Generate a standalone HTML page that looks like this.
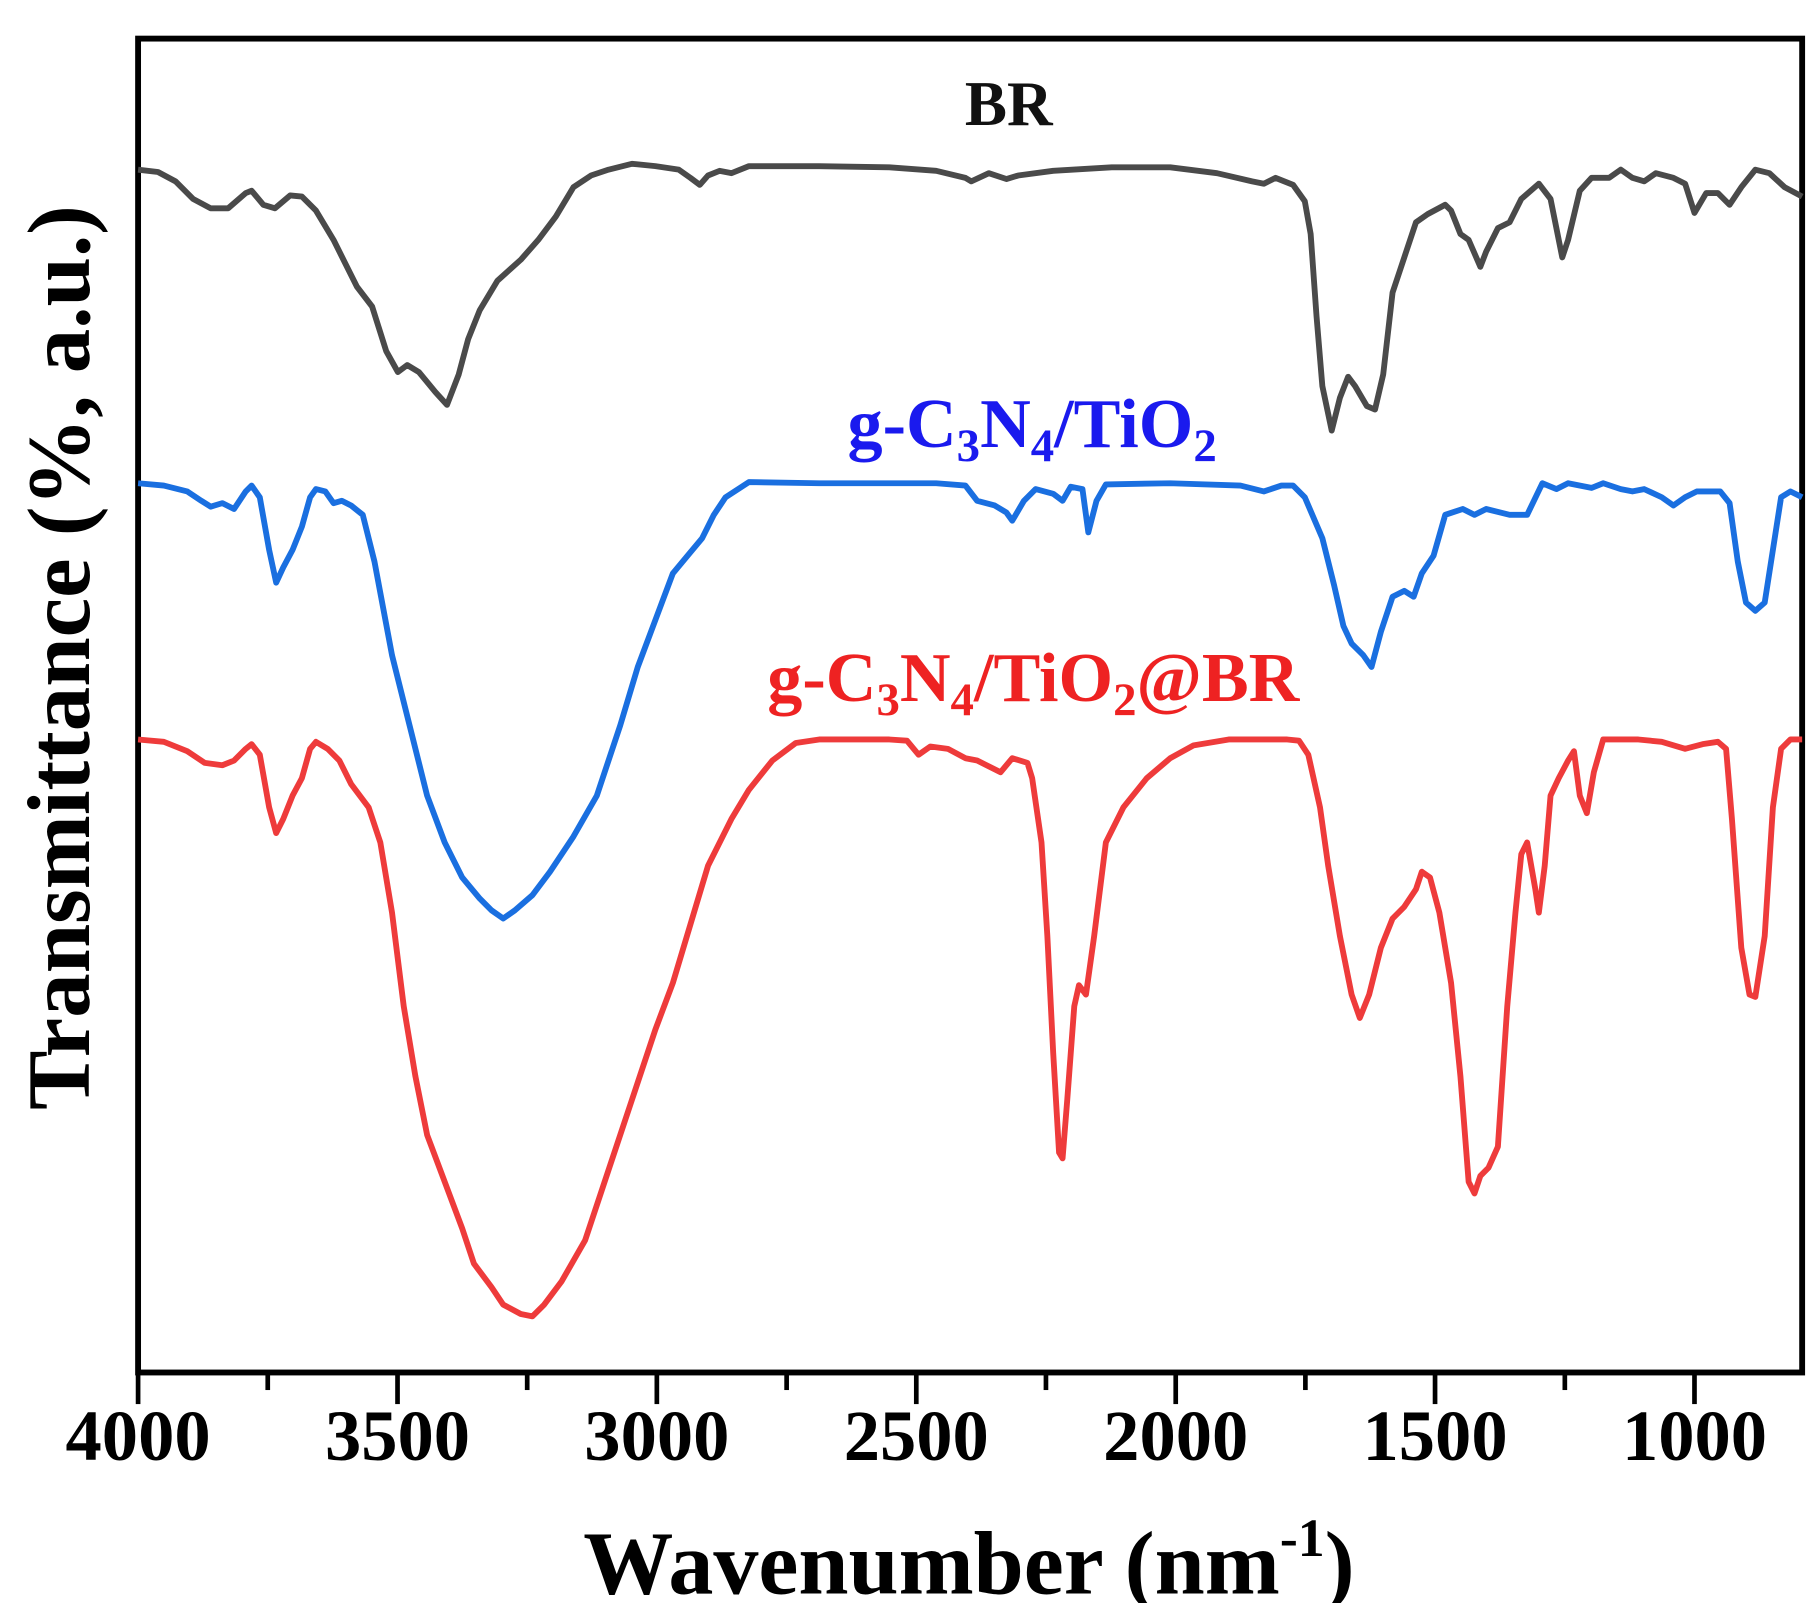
<!DOCTYPE html>
<html><head><meta charset="utf-8"><style>html,body{margin:0;padding:0;background:#fff}svg{display:block}</style></head>
<body>
<svg width="1808" height="1603" viewBox="0 0 1545 1370" preserveAspectRatio="none" xmlns="http://www.w3.org/2000/svg" font-family="'Liberation Serif',serif" font-weight="bold">
<rect x="118" y="33" width="1422" height="1140" fill="none" stroke="#000" stroke-width="5"/>
<g stroke="#000" stroke-width="4">
<line x1="118" y1="1173" x2="118" y2="1200"/><line x1="339.7" y1="1173" x2="339.7" y2="1200"/><line x1="561.3" y1="1173" x2="561.3" y2="1200"/><line x1="783" y1="1173" x2="783" y2="1200"/><line x1="1004.7" y1="1173" x2="1004.7" y2="1200"/><line x1="1226.3" y1="1173" x2="1226.3" y2="1200"/><line x1="1448" y1="1173" x2="1448" y2="1200"/>
<line x1="228.8" y1="1173" x2="228.8" y2="1188"/><line x1="450.5" y1="1173" x2="450.5" y2="1188"/><line x1="672.2" y1="1173" x2="672.2" y2="1188"/><line x1="893.8" y1="1173" x2="893.8" y2="1188"/><line x1="1115.5" y1="1173" x2="1115.5" y2="1188"/><line x1="1337.2" y1="1173" x2="1337.2" y2="1188"/>
</g>
<g font-size="62" text-anchor="middle" fill="#000">
<text x="118" y="1248">4000</text><text x="339.7" y="1248">3500</text><text x="561.3" y="1248">3000</text><text x="783" y="1248">2500</text><text x="1004.7" y="1248">2000</text><text x="1226.3" y="1248">1500</text><text x="1448" y="1248">1000</text>
</g>
<text x="828" y="1362" font-size="77" text-anchor="middle">Wavenumber (nm<tspan font-size="46" dy="-32">-1</tspan><tspan dy="32">)</tspan></text>
<text transform="translate(76,562) rotate(-90)" font-size="76" text-anchor="middle">Transmittance (%, a.u.)</text>
<text x="862" y="107" font-size="54" text-anchor="middle" fill="#111">BR</text>
<text x="882" y="382" font-size="60" text-anchor="middle" fill="#1a1aee">g-C<tspan font-size="40" dy="12">3</tspan><tspan dy="-12">N</tspan><tspan font-size="40" dy="12">4</tspan><tspan dy="-12">/TiO</tspan><tspan font-size="40" dy="12">2</tspan></text>
<text x="883" y="599" font-size="60" text-anchor="middle" fill="#ee2222">g-C<tspan font-size="40" dy="12">3</tspan><tspan dy="-12">N</tspan><tspan font-size="40" dy="12">4</tspan><tspan dy="-12">/TiO</tspan><tspan font-size="40" dy="12">2</tspan><tspan dy="-12">@BR</tspan></text>
<g fill="none" stroke-width="5" stroke-linejoin="round">
<polyline stroke="#4a4a4a" points="118,145 135,147 150,155 165,170 180,178 195,178 210,165 215,163 225,175 235,178 248,167 258,168 270,180 285,205 295,225 305,245 318,262 330,300 340,318 348,312 358,318 372,335 382,346 392,320 400,290 410,265 425,240 445,222 460,205 475,185 490,160 505,150 520,145 540,140 560,142 580,145 590,152 598,158 605,150 615,146 625,148 640,142 700,142 760,143 800,146 825,152 830,155 845,148 860,153 870,150 900,146 950,143 1000,143 1040,148 1070,155 1080,157 1090,152 1105,158 1115,172 1120,200 1125,270 1130,330 1138,368 1145,340 1152,322 1158,330 1168,347 1175,350 1182,320 1190,250 1200,220 1210,190 1220,183 1235,175 1240,180 1248,200 1255,205 1265,228 1270,215 1280,195 1290,190 1300,170 1315,157 1325,170 1335,220 1340,205 1350,163 1360,152 1375,152 1385,145 1395,152 1405,155 1415,148 1430,152 1440,157 1448,182 1458,165 1468,165 1478,175 1488,160 1500,145 1512,148 1525,160 1540,168"/>
<polyline stroke="#1a6fe0" points="118,413 140,415 160,420 172,428 180,433 190,430 200,435 210,420 215,415 222,425 230,470 236,498 242,485 250,470 258,450 265,425 270,418 278,420 285,430 292,428 300,432 310,440 320,480 335,560 350,620 365,680 380,720 395,750 410,768 420,778 430,785 440,778 455,765 470,745 490,715 510,680 530,620 545,570 560,530 575,490 590,472 600,460 610,440 620,425 640,412 700,413 760,413 800,413 825,415 835,428 850,432 860,438 865,445 875,428 885,418 900,422 908,428 915,416 925,418 930,455 937,428 945,414 1000,413 1060,415 1080,420 1095,415 1105,415 1115,425 1130,460 1140,500 1148,535 1155,550 1165,560 1172,570 1180,540 1190,510 1200,505 1208,510 1215,490 1225,475 1235,440 1250,435 1260,440 1270,435 1290,440 1305,440 1318,413 1330,418 1340,413 1360,417 1370,413 1385,418 1395,420 1405,418 1420,425 1430,432 1440,425 1450,420 1470,420 1478,430 1485,480 1492,515 1500,522 1508,515 1515,470 1522,425 1530,420 1540,425"/>
<polyline stroke="#ee3b3b" points="118,632 140,634 160,642 175,652 190,654 200,650 210,640 215,636 222,645 230,690 236,712 242,700 250,680 258,665 265,640 270,634 280,640 290,650 300,670 315,690 325,720 335,780 345,860 355,920 365,970 380,1010 395,1050 405,1080 420,1100 430,1115 445,1123 455,1125 465,1115 480,1095 500,1060 520,1000 540,940 560,880 575,840 590,790 605,740 625,700 640,675 660,650 680,635 700,632 760,632 775,633 785,645 795,638 810,640 825,648 835,650 845,655 855,660 865,648 878,652 882,665 890,720 895,800 900,900 905,985 908,990 912,940 918,860 922,842 928,850 935,800 945,720 960,690 980,665 1000,648 1020,637 1050,632 1100,632 1110,633 1118,645 1128,690 1135,740 1145,800 1155,850 1162,870 1170,850 1180,810 1190,785 1200,775 1210,760 1215,745 1222,750 1230,780 1240,840 1248,920 1255,1010 1260,1020 1265,1005 1272,998 1280,980 1288,860 1295,780 1300,730 1305,720 1312,760 1315,780 1320,740 1325,680 1332,665 1340,650 1345,642 1350,680 1356,695 1362,660 1370,632 1400,632 1420,634 1440,640 1455,636 1468,634 1475,640 1480,700 1488,810 1495,850 1500,852 1508,800 1515,690 1522,640 1530,632 1540,632"/>
</g>
</svg>
</body></html>
